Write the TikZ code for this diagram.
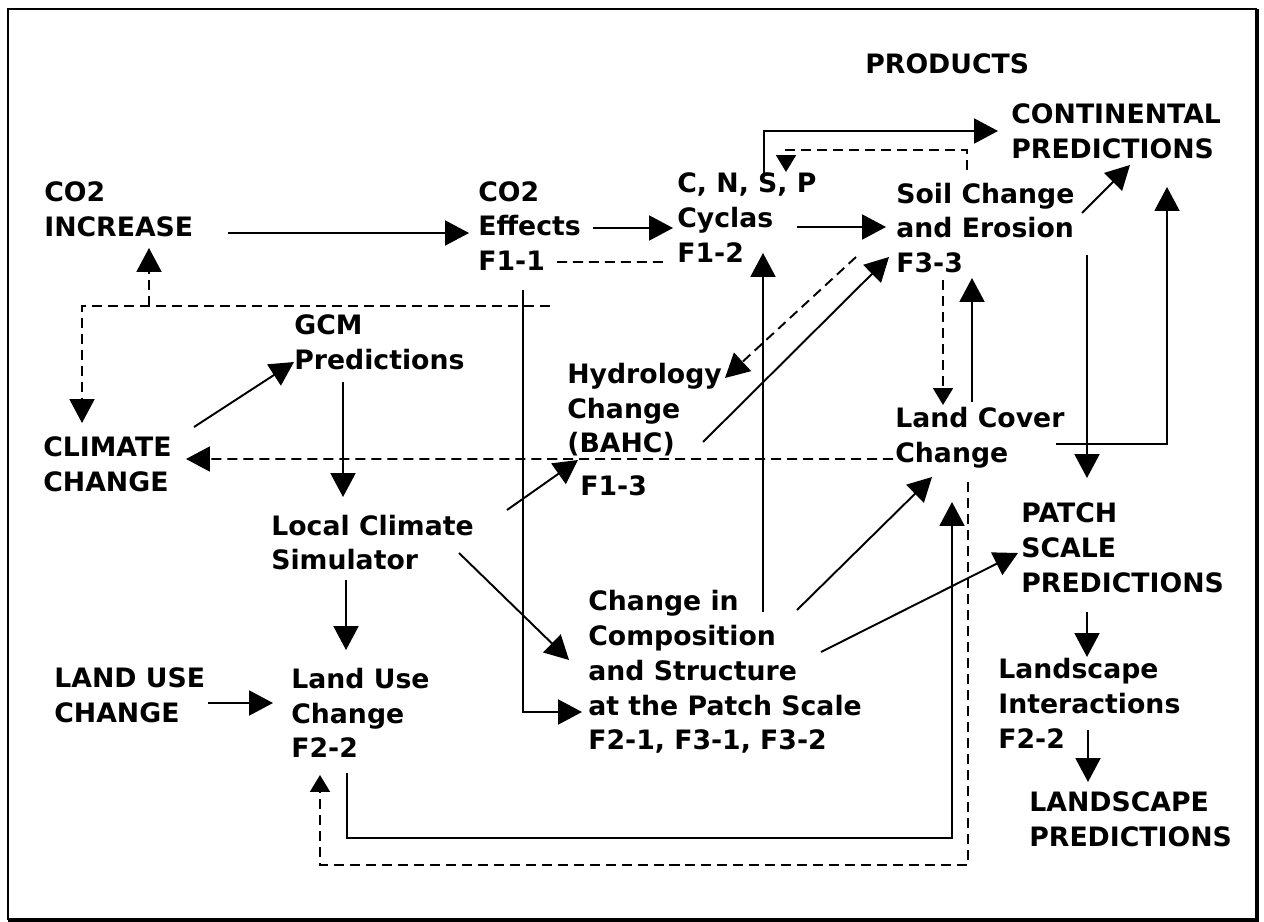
\documentclass[tikz,border=0pt]{standalone}
\usepackage{fontspec}
\setmainfont{DejaVu Sans}
\usetikzlibrary{positioning, arrows.meta, calc}

\begin{document}
\begin{tikzpicture}[
  x=0.02cm, y=-0.02cm,
  lbl/.style={inner sep=0pt, anchor=west, align=left,
              font=\fontsize{15.2pt}{19.8pt}\selectfont\bfseries},
  conn/.style={line width=1.1pt},
  arr/.style={conn, -{Triangle[length=13.6pt, width=14.2pt]}},
  sarr/.style={conn, -{Triangle[length=9.6pt, width=11.3pt]}},
  dsh/.style={dash pattern=on 5.7pt off 3.4pt},
]
\useasboundingbox (0,0) rectangle (1264,922);

% --- Frame ---
\draw[line width=1.2pt] (1257,9) -- (8,9) -- (8,920);
\draw[line width=2.3pt] (8,920) -- (1257,920) -- (1257,9);

% --- Main nodes ---
\node[lbl] (products) at (865,64)    {PRODUCTS};
\node[lbl] (cont)     at (1011,131)  {CONTINENTAL\\PREDICTIONS};
\node[lbl] (co2inc)   at (44,209.5)  {CO2\\INCREASE};
\node[lbl] (co2eff)   at (478,226)   {CO2\\Effects\\F1-1};
\node[lbl] (cycles)   at (677,217.5) {C, N, S, P\\Cyclas\\F1-2};
\node[lbl] (soil)     at (896,228)   {Soil Change\\and Erosion\\F3-3};
\node[lbl] (gcm)      at (294,342.5) {GCM\\Predictions};
\node[lbl] (climate)  at (43,464.5)  {CLIMATE\\CHANGE};
\node[lbl] (hydro)    at (567,429.5) {Hydrology\\Change\\(BAHC)\\[4.6pt]\hspace*{7.4pt}F1-3};
\node[lbl] (landcov)  at (895,437.5) {Land Cover\\Change};
\node[lbl] (local)    at (271,542.5) {Local Climate\\Simulator};
\node[lbl] (patch)    at (1021,547.5) {PATCH\\SCALE\\PREDICTIONS};
\node[lbl] (compo)    at (588,672)   {Change in\\Composition\\and Structure\\at the Patch Scale\\F2-1, F3-1, F3-2};
\node[lbl] (landuse)  at (54,695)    {LAND USE\\CHANGE};
\node[lbl] (luchange) at (291,713)   {Land Use\\Change\\F2-2};
\node[lbl] (landint)  at (998,703.5) {Landscape\\Interactions\\F2-2};
\node[lbl] (landpred) at (1029,819.5) {LANDSCAPE\\PREDICTIONS};

% --- Arrows: upper row ---
\draw[arr] ($(co2inc.west)+(184,23.5)$) -- ($(co2eff.west)+(-9,7)$);
\draw[arr] ($(co2eff.west)+(115,2)$) -- ($(cycles.west)+(-4,10.5)$);
\draw[conn, dsh] ($(co2eff.west)+(79,36)$) -- ($(cycles.west)+(-14,44.5)$);
\draw[arr] ($(cycles.west)+(120,9.5)$) -- ($(soil.west)+(-10,-1)$);
\draw[arr] ($(cycles.west)+(87,-44.5)$) |- ($(cont.west)+(-13,0)$);
\draw[sarr, dsh] ($(soil.west)+(71,-58)$) |- ($(cycles.west)+(109,-67.5)$)
  -- ($(cycles.west)+(109,-45.5)$);
\draw[arr] ($(soil.west)+(186,-15)$) -- ($(cont.west)+(119,34)$);

% --- Arrows: products column ---
\draw[arr] ($(soil.west)+(191,27)$) -- ($(patch.west)+(66,-69.5)$);
\draw[arr] ($(landcov.west)+(161,6.5)$) -| ($(cont.west)+(156,56)$);
\draw[arr] ($(patch.west)+(66,64.5)$) -- ($(landint.west)+(89,-46.5)$);
\draw[arr] ($(landint.west)+(90,26.5)$) -- ($(landpred.west)+(59,-37.5)$);

% --- Arrows: soil, hydrology and land cover ---
\draw[sarr, dsh] ($(soil.west)+(47,52)$) -- ($(landcov.west)+(48,-32.5)$);
\draw[arr] ($(landcov.west)+(77,-35.5)$) -- ($(soil.west)+(76,50)$);
\draw[arr, dsh] ($(soil.west)+(-40,29)$) -- ($(hydro.west)+(158,-51.5)$);
\draw[arr] ($(hydro.west)+(136,12.5)$) -- ($(soil.west)+(-7,29)$);
\draw[arr, dsh] ($(landcov.west)+(-2,21.5)$) -- ($(climate.west)+(143,-5.5)$);

% --- Arrows: climate side ---
\draw[arr] ($(climate.west)+(151,-37.5)$) -- ($(gcm.west)+(0,19.5)$);
\draw[arr] ($(gcm.west)+(49,39.5)$) -- ($(local.west)+(72,-45.5)$);
\draw[arr, dsh] ($(co2eff.west)+(72,80)$) -| ($(climate.west)+(39,-41.5)$);
\draw[arr, dsh] ($(co2inc.west)+(105,96.5)$) -- ($(co2inc.west)+(105,38.5)$);
\draw[arr] ($(co2eff.west)+(45,64)$) |- ($(compo.west)+(-6,40)$);
\draw[arr] ($(local.west)+(236,-32.5)$) -- ($(hydro.west)+(11,30.5)$);
\draw[arr] ($(local.west)+(188,10.5)$) -- ($(compo.west)+(-19,-12)$);
\draw[arr] ($(local.west)+(75,37.5)$) -- ($(luchange.west)+(55,-63)$);
\draw[arr] ($(landuse.west)+(154,8)$) -- ($(luchange.west)+(-18,-10)$);

% --- Arrows: from the patch scale ---
\draw[arr] ($(compo.west)+(175,-60)$) -- ($(cycles.west)+(86,35.5)$);
\draw[arr] ($(compo.west)+(209,-62)$) -- ($(landcov.west)+(37,39.5)$);
\draw[arr] ($(compo.west)+(233,-20)$) -- ($(patch.west)+(-3,5.5)$);

% --- Feedback loops ---
\draw[arr] ($(luchange.west)+(56,60)$) |- ($(compo.west)+(364,166)$)
  -- ($(landcov.west)+(57,64.5)$);
\draw[sarr, dsh] ($(landcov.west)+(73,44.5)$) -- ($(compo.west)+(380,193)$)
  -| ($(luchange.west)+(29,62)$);

\end{tikzpicture}
\end{document}
